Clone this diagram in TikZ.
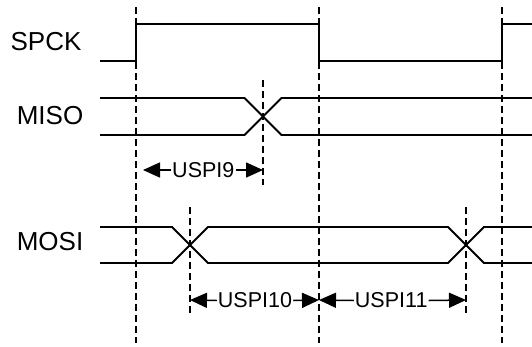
\documentclass[tikz,border=0pt]{standalone}
\usepackage{fontspec}
\setmainfont{Liberation Sans}
\usetikzlibrary{arrows.meta}
\begin{document}
\begin{tikzpicture}[x=1pt,y=-1pt,
  sig/.style={line width=2.4pt},
  bus/.style={line width=1.9pt},
  guide/.style={line width=2pt,dash pattern=on 7pt off 4pt},
  sname/.style={font=\fontsize{26}{30}\selectfont},
  tname/.style={font=\fontsize{21.5}{25}\selectfont,inner sep=1pt},
  dim/.style={line width=1.5pt,-{Triangle[length=17pt,width=15pt]}}]
  \useasboundingbox (0,0) rectangle (532,346);
  % guide lines
  \draw[guide] (136,7) -- (136,343);
  \draw[guide] (319,7) -- (319,343);
  \draw[guide] (502,7) -- (502,343);
  \draw[guide] (263,80) -- (263,185);
  \draw[guide] (190,207) -- (190,315);
  \draw[guide] (466,207) -- (466,315);
  % clock
  \node[sname] (spck) at (46,42) {SPCK};
  \draw[sig] (100,61) -- (136,61) -- (136,24) -- (319,24) -- (319,61) -- (502,61) -- (502,24) -- (532,24);
  % data in
  \node[sname] (miso) at (50,116) {MISO};
  \draw[bus] (100,98) -- (244.5,98) -- (281.5,135) -- (532,135);
  \draw[bus] (100,135) -- (244.5,135) -- (281.5,98) -- (532,98);
  % data out
  \node[sname] (mosi) at (50,242) {MOSI};
  \draw[bus] (100,227) -- (172,227) -- (208,263) -- (448,263) -- (484,227) -- (532,227);
  \draw[bus] (100,263) -- (172,263) -- (208,227) -- (448,227) -- (484,263) -- (532,263);
  % timings
  \coordinate (s9) at (143,170);
  \coordinate (e9) at (263,170);
  \coordinate (s10) at (190,300);
  \coordinate (mid) at (319,300);
  \coordinate (e11) at (466,300);
  \node[tname] (t9) at (203.3,170) {USPI9};
  \draw[dim] (t9.west) -- (s9);
  \draw[dim] (t9.east) -- (e9);
  \node[tname] (t10) at (255,300.5) {USPI10};
  \draw[dim] (t10.west) -- (s10);
  \draw[dim] (t10.east) -- (mid);
  \node[tname] (t11) at (391.2,300.5) {USPI11};
  \draw[dim] (t11.west) -- (mid);
  \draw[dim] (t11.east) -- (e11);
\end{tikzpicture}
\end{document}
